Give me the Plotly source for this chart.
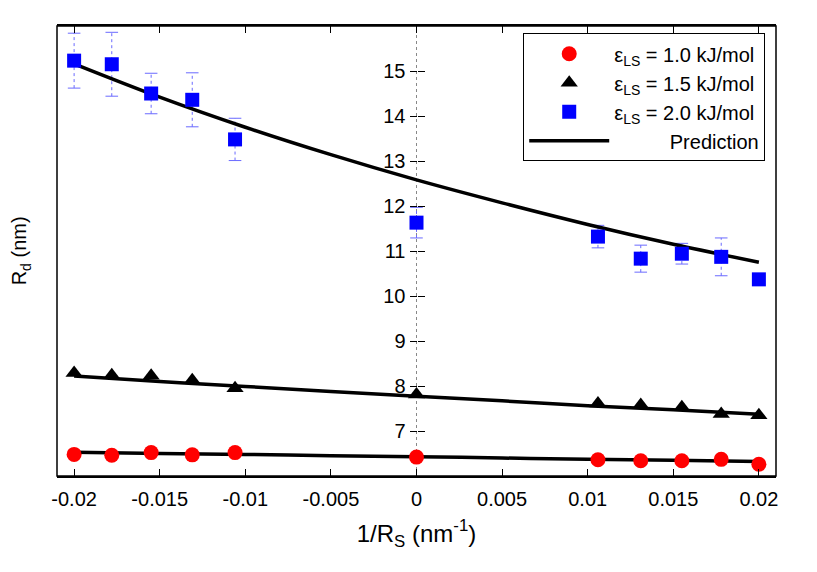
import plotly.graph_objects as go

# 1/R_S values of the simulated systems (nm^-1)
inv_rs = [-0.02, -0.0178, -0.0155, -0.0131, -0.0106, 0.0,
          0.0106, 0.0131, 0.0155, 0.0178, 0.02]

# droplet radius R_d (nm) per interaction strength
rd_eps10 = [6.48, 6.46, 6.52, 6.47, 6.52, 6.42, 6.36, 6.34, 6.34, 6.37, 6.26]
rd_eps15 = [8.29, 8.24, 8.23, 8.13, 7.95, 7.81, 7.61, 7.58, 7.53, 7.38, 7.35]
rd_eps20 = [15.23, 15.15, 14.50, 14.36, 13.48, 11.63, 11.32, 10.83, 10.94, 10.87, 10.37]
err_eps20 = [0.61, 0.71, 0.45, 0.60, 0.47, 0.34, 0.25, 0.30, 0.23, 0.42, 0.05]

# prediction curves
pred_x = [-0.02, -0.015, -0.01, -0.005, 0.0, 0.005, 0.01, 0.015, 0.02]
pred_eps10 = [6.53, 6.50, 6.48, 6.45, 6.43, 6.40, 6.37, 6.35, 6.32]
pred_eps15 = [8.22, 8.10, 7.99, 7.88, 7.77, 7.67, 7.56, 7.47, 7.37]
pred_eps20 = [15.16, 14.42, 13.75, 13.14, 12.58, 12.07, 11.59, 11.15, 10.75]

x_ticks = [-0.02, -0.015, -0.01, -0.005, 0, 0.005, 0.01, 0.015, 0.02]
x_ticktext = ['-0.02', '-0.015', '-0.01', '-0.005', '0', '0.005', '0.01', '0.015', '0.02']
y_ticks = [7, 8, 9, 10, 11, 12, 13, 14, 15]

FONT = 'Liberation Sans, Arial, sans-serif'
ERR_COLOR = '#6a6aff'

fig = go.Figure()

# dotted error bars for the 2.0 kJ/mol series
seg_x, seg_y = [], []
cap_x, cap_y = [], []
for xv, yv, ev in zip(inv_rs, rd_eps20, err_eps20):
    seg_x += [xv, xv, None]
    seg_y += [yv - ev, yv + ev, None]
    cap_x += [xv, xv]
    cap_y += [yv - ev, yv + ev]

fig.add_trace(go.Scatter(
    x=seg_x, y=seg_y, mode='lines', showlegend=False, hoverinfo='skip',
    line=dict(color=ERR_COLOR, width=1, dash='dot'),
))
fig.add_trace(go.Scatter(
    x=cap_x, y=cap_y, mode='markers', showlegend=False, hoverinfo='skip',
    marker=dict(symbol='line-ew', size=9, line=dict(color=ERR_COLOR, width=1)),
))

# prediction lines
for i, yy in enumerate([pred_eps10, pred_eps15, pred_eps20]):
    fig.add_trace(go.Scatter(
        x=pred_x, y=yy, mode='lines', line_shape='spline',
        line=dict(color='black', width=3.5),
        name='&nbsp;' * 10 + 'Prediction', showlegend=(i == 0),
        legendrank=4,
    ))

fig.add_trace(go.Scatter(
    x=inv_rs, y=rd_eps10, mode='markers', name='ε<sub>LS</sub> = 1.0 kJ/mol',
    marker=dict(symbol='circle', size=15, color='#ff0000'), legendrank=1,
))
fig.add_trace(go.Scatter(
    x=inv_rs, y=rd_eps15, mode='markers', name='ε<sub>LS</sub> = 1.5 kJ/mol',
    marker=dict(symbol='triangle-up', size=15, color='black'), legendrank=2,
))
fig.add_trace(go.Scatter(
    x=inv_rs, y=rd_eps20, mode='markers', name='ε<sub>LS</sub> = 2.0 kJ/mol',
    marker=dict(symbol='square', size=14, color='#0000ff'), legendrank=3,
))

# the page body adds 8px, so margins are 8px smaller on the left/top
fig.update_layout(
    width=817, height=572,
    margin=dict(l=49, r=49, t=18, b=104),
    paper_bgcolor='white',
    plot_bgcolor='white',
    font=dict(family=FONT, size=20, color='black'),
    xaxis=dict(
        range=[-0.021, 0.021], tickvals=x_ticks, ticktext=x_ticktext,
        ticks='inside', ticklen=7, tickcolor='black', mirror='ticks',
        showline=True, linecolor='black', linewidth=1.5,
        showgrid=False, zeroline=False, ticklabelstandoff=4,
        automargin=False,
        title=dict(text='1/R<sub>S</sub> (nm<sup>-1</sup>)', standoff=16),
    ),
    yaxis=dict(
        range=[6, 16], tickvals=y_ticks, anchor='free', position=0.5,
        ticks='outside', ticklen=7, tickcolor='black', automargin=False,
        showline=False, showgrid=False, zeroline=False,
    ),
    yaxis2=dict(
        range=[6, 16], tickvals=y_ticks, overlaying='y', anchor='free',
        position=0.5, ticks='inside', ticklen=7, tickcolor='black',
        showticklabels=False, showgrid=False, zeroline=False, showline=False,
        automargin=False,
    ),
    legend=dict(
        x=0.985, y=0.984, xanchor='right', yanchor='top',
        bgcolor='white', bordercolor='black', borderwidth=1,
        font=dict(family=FONT, size=20), itemwidth=80,
        tracegroupgap=0,
    ),
    showlegend=True,
)

# dummy trace so the second y axis (inside ticks) is drawn
fig.add_trace(go.Scatter(x=[0], y=[11], yaxis='y2', mode='markers',
                         marker=dict(opacity=0), showlegend=False,
                         hoverinfo='skip'))

# dotted zero axis and the left/right frame
fig.add_shape(type='line', xref='x', yref='paper', x0=0, x1=0, y0=0, y1=1,
              line=dict(color='#888888', width=1, dash='dot'), layer='below')
fig.add_shape(type='rect', xref='paper', yref='paper', x0=0, x1=1, y0=0, y1=1,
              line=dict(color='black', width=1.5))

fig.add_annotation(
    text='R<sub>d</sub> (nm)', xref='paper', yref='paper', x=-0.051, y=0.5,
    textangle=-90, showarrow=False, xanchor='center', yanchor='middle',
    font=dict(family=FONT, size=20),
)

fig.write_html('out.html')
